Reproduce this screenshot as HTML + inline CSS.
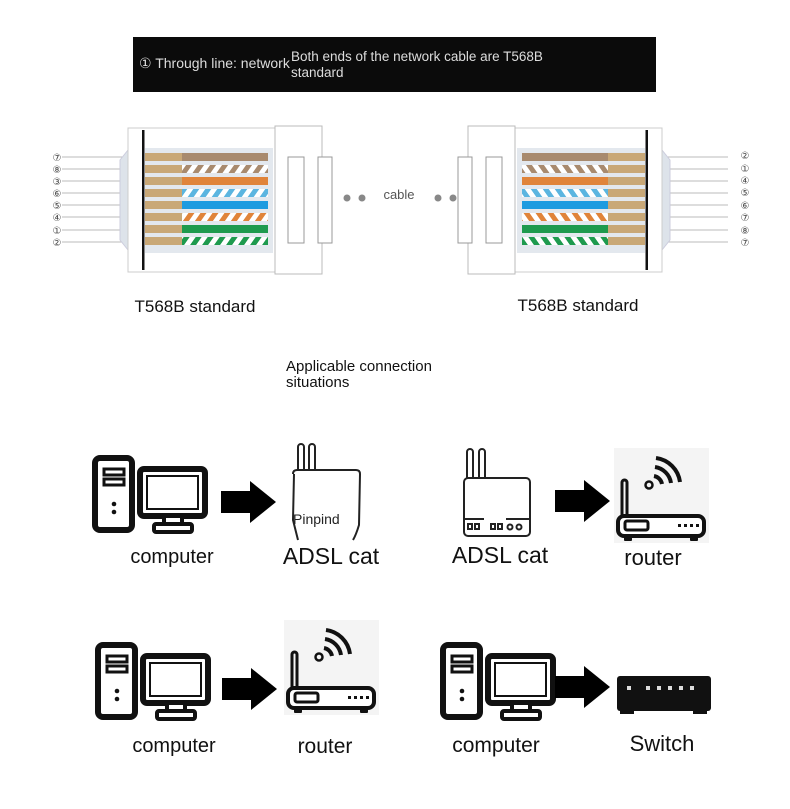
<!DOCTYPE html>
<html><head><meta charset="utf-8"><style>
body{margin:0;background:#fff;}
svg{display:block;font-family:"Liberation Sans","DejaVu Sans",sans-serif;}
</style></head><body>
<svg width="790" height="809" viewBox="0 0 790 809" xmlns="http://www.w3.org/2000/svg">
<defs>
<pattern id="stBr" width="12" height="10" patternUnits="userSpaceOnUse" patternTransform="skewX(-35)"><rect width="12" height="10" fill="#fff"/><rect width="6" height="10" fill="#a88a6e"/></pattern>
<pattern id="stOr" width="12" height="10" patternUnits="userSpaceOnUse" patternTransform="skewX(-35)"><rect width="12" height="10" fill="#fff"/><rect width="6" height="10" fill="#e0843a"/></pattern>
<pattern id="stBl" width="12" height="10" patternUnits="userSpaceOnUse" patternTransform="skewX(-35)"><rect width="12" height="10" fill="#fff"/><rect width="6" height="10" fill="#5bb5e0"/></pattern>
<pattern id="stGr" width="12" height="10" patternUnits="userSpaceOnUse" patternTransform="skewX(-35)"><rect width="12" height="10" fill="#fff"/><rect width="6" height="10" fill="#1e9a4e"/></pattern>
<g id="plug">
  <rect x="0" y="0" width="147" height="144" fill="#fff" stroke="#ccc"/>
  <rect x="17" y="20" width="128" height="105" fill="#e3e8ee"/>
  <rect x="14" y="2" width="2.5" height="140" fill="#111"/>
  <g>
    <rect x="17" y="25" width="37" height="8" fill="#c9a877"/><rect x="54" y="25" width="86" height="8" fill="#a88a6e"/>
    <rect x="17" y="37" width="37" height="8" fill="#c9a877"/><rect x="54" y="37" width="86" height="8" fill="url(#stBr)"/>
    <rect x="17" y="49" width="37" height="8" fill="#c9a877"/><rect x="54" y="49" width="86" height="8" fill="#e0843a"/>
    <rect x="17" y="61" width="37" height="8" fill="#c9a877"/><rect x="54" y="61" width="86" height="8" fill="url(#stBl)"/>
    <rect x="17" y="73" width="37" height="8" fill="#c9a877"/><rect x="54" y="73" width="86" height="8" fill="#1d9be0"/>
    <rect x="17" y="85" width="37" height="8" fill="#c9a877"/><rect x="54" y="85" width="86" height="8" fill="url(#stOr)"/>
    <rect x="17" y="97" width="37" height="8" fill="#c9a877"/><rect x="54" y="97" width="86" height="8" fill="#1e9a4e"/>
    <rect x="17" y="109" width="37" height="8" fill="#c9a877"/><rect x="54" y="109" width="86" height="8" fill="url(#stGr)"/>
  </g>
  <rect x="147" y="-2" width="47" height="148" fill="#fff" stroke="#bbb"/>
  <rect x="160" y="29" width="16" height="86" fill="#fff" stroke="#999"/>
  <rect x="190" y="29" width="14" height="86" fill="#fff" stroke="#999"/>
</g>
<g id="comp">
  <rect x="3" y="3" width="37" height="72" rx="5" fill="#fff" stroke="#111" stroke-width="6"/>
  <rect x="12" y="14" width="20" height="6" fill="#fff" stroke="#111" stroke-width="3"/>
  <rect x="12" y="24" width="20" height="6" fill="#fff" stroke="#111" stroke-width="3"/>
  <circle cx="22" cy="49" r="2.3" fill="#111"/><circle cx="22" cy="57" r="2.3" fill="#111"/>
  <rect x="48" y="14" width="65" height="47" rx="4" fill="#fff" stroke="#111" stroke-width="6"/>
  <rect x="55" y="21" width="51" height="33" fill="#fff" stroke="#111" stroke-width="2"/>
  <rect x="72" y="61" width="18" height="9" fill="#fff" stroke="#111" stroke-width="4"/>
  <rect x="62" y="69" width="38" height="8" rx="2" fill="#fff" stroke="#111" stroke-width="4"/>
</g>
<g id="arr"><rect x="0" y="10" width="30" height="22" fill="#000"/><polygon points="29,0 55,21 29,42" fill="#000"/></g>
<g id="router">
  <rect x="0" y="0" width="95" height="95" fill="#f4f4f4"/>
  <rect x="8" y="32" width="5" height="45" rx="2.5" fill="none" stroke="#111" stroke-width="3"/>
  <rect x="4" y="68" width="86" height="20" rx="6" fill="#fff" stroke="#111" stroke-width="4"/>
  <rect x="11" y="73" width="23" height="9" rx="2" fill="none" stroke="#111" stroke-width="3"/>
  <g fill="#111"><rect x="64" y="76" width="3" height="3"/><rect x="70" y="76" width="3" height="3"/><rect x="76" y="76" width="3" height="3"/><rect x="82" y="76" width="3" height="3"/>
  <rect x="10" y="88" width="8" height="5" rx="1"/><rect x="76" y="88" width="8" height="5" rx="1"/></g>
  <circle cx="35" cy="37" r="3.5" fill="none" stroke="#111" stroke-width="2.5"/>
  <g fill="none" stroke="#111" stroke-width="4"><path d="M40 28 a10 10 0 0 1 8 8"/><path d="M41 19 a19 19 0 0 1 16 16"/><path d="M42 10 a28 28 0 0 1 24 24"/></g>
</g>
</defs>

<rect x="133" y="37" width="523" height="55" fill="#0b0b0b"/>
<text x="139" y="68" fill="#ddd" font-size="14">① Through line: network</text>
<text x="291" y="61" fill="#ddd" font-size="13.5">Both ends of the network cable are T568B</text>
<text x="291" y="77" fill="#ddd" font-size="13.5">standard</text>

<g stroke="#bbb" stroke-width="1">
<line x1="62" y1="157" x2="145" y2="157"/><line x1="62" y1="169" x2="145" y2="169"/><line x1="62" y1="181" x2="145" y2="181"/><line x1="62" y1="193" x2="145" y2="193"/><line x1="62" y1="205" x2="145" y2="205"/><line x1="62" y1="217" x2="145" y2="217"/><line x1="62" y1="230" x2="145" y2="230"/><line x1="62" y1="242" x2="145" y2="242"/>
<line x1="728" y1="157" x2="645" y2="157"/><line x1="728" y1="169" x2="645" y2="169"/><line x1="728" y1="181" x2="645" y2="181"/><line x1="728" y1="193" x2="645" y2="193"/><line x1="728" y1="205" x2="645" y2="205"/><line x1="728" y1="217" x2="645" y2="217"/><line x1="728" y1="230" x2="645" y2="230"/><line x1="728" y1="242" x2="645" y2="242"/>
</g>
<path d="M128 150 L120 160 L120 240 L128 250" fill="#dde3ea" stroke="#ccd"/>
<path d="M662 150 L670 160 L670 240 L662 250" fill="#dde3ea" stroke="#ccd"/>
<use href="#plug" transform="translate(128,128)"/>
<use href="#plug" transform="translate(662,128) scale(-1,1)"/>
<g font-size="10" fill="#444" text-anchor="middle">
<text x="57" y="161">⑦</text><text x="57" y="173">⑧</text><text x="57" y="185">③</text><text x="57" y="197">⑥</text><text x="57" y="209">⑤</text><text x="57" y="221">④</text><text x="57" y="234">①</text><text x="57" y="246">②</text>
<text x="745" y="159">②</text><text x="745" y="172">①</text><text x="745" y="184">④</text><text x="745" y="196">⑤</text><text x="745" y="209">⑥</text><text x="745" y="221">⑦</text><text x="745" y="234">⑧</text><text x="745" y="246">⑦</text>
</g>
<g fill="#888"><circle cx="347" cy="198" r="3.5"/><circle cx="362" cy="198" r="3.5"/><circle cx="438" cy="198" r="3.5"/><circle cx="453" cy="198" r="3.5"/></g>
<text x="399" y="199" font-size="13" fill="#555" text-anchor="middle">cable</text>
<text x="195" y="312" font-size="17" fill="#111" text-anchor="middle">T568B standard</text>
<text x="578" y="311" font-size="17" fill="#111" text-anchor="middle">T568B standard</text>
<text x="286" y="371" font-size="15" fill="#111">Applicable connection</text>
<text x="286" y="387" font-size="15" fill="#111">situations</text>

<use href="#comp" transform="translate(92,455)"/>
<text x="172" y="563" font-size="20" fill="#111" text-anchor="middle">computer</text>
<use href="#arr" transform="translate(221,481)"/>
<g fill="none" stroke="#222" stroke-width="2">
<path d="M298 470 L298 447 a3 3 0 0 1 6 0 L304 470 M309 470 L309 447 a3 3 0 0 1 6 0 L315 470"/>
<path d="M293 474 Q293 470 297 470 L356 470 Q360 470 360 474 L359 525 Q356 535 353 540 M294 474 L293 520 Q296 532 298 540"/>
</g>
<text x="293" y="524" font-size="14" fill="#222">Pinpind</text>
<text x="331" y="564" font-size="23" fill="#111" text-anchor="middle">ADSL cat</text>

<g fill="none" stroke="#222" stroke-width="2">
<path d="M467 478 L467 452 a3 3 0 0 1 6 0 L473 478 M479 478 L479 452 a3 3 0 0 1 6 0 L485 478"/>
<rect x="464" y="478" width="66" height="58" rx="4"/>
<line x1="464" y1="519" x2="484" y2="519"/><line x1="506" y1="519" x2="530" y2="519"/>
<rect x="468" y="524" width="4" height="5"/><rect x="475" y="524" width="4" height="5"/><rect x="491" y="524" width="4" height="5"/><rect x="498" y="524" width="4" height="5"/>
<circle cx="510" cy="527" r="2.5"/><circle cx="519" cy="527" r="2.5"/>
</g>
<text x="500" y="563" font-size="23" fill="#111" text-anchor="middle">ADSL cat</text>
<use href="#arr" transform="translate(555,480)"/>
<use href="#router" transform="translate(614,448)"/>
<text x="653" y="565" font-size="22" fill="#111" text-anchor="middle">router</text>

<use href="#comp" transform="translate(95,642)"/>
<text x="174" y="752" font-size="20" fill="#111" text-anchor="middle">computer</text>
<use href="#arr" transform="translate(222,668)"/>
<use href="#router" transform="translate(284,620)"/>
<text x="325" y="753" font-size="21" fill="#111" text-anchor="middle">router</text>
<use href="#comp" transform="translate(440,642)"/>
<text x="496" y="752" font-size="21" fill="#111" text-anchor="middle">computer</text>
<use href="#arr" transform="translate(555,666)"/>
<rect x="617" y="676" width="94" height="35" rx="3" fill="#111"/>
<rect x="620" y="710" width="14" height="4" fill="#111"/><rect x="693" y="710" width="14" height="4" fill="#111"/>
<g fill="#ddd"><rect x="627" y="686" width="4" height="4"/><rect x="646" y="686" width="4" height="4"/><rect x="657" y="686" width="4" height="4"/><rect x="668" y="686" width="4" height="4"/><rect x="679" y="686" width="4" height="4"/><rect x="690" y="686" width="4" height="4"/></g>
<text x="662" y="751" font-size="22" fill="#111" text-anchor="middle">Switch</text>
</svg>
</body></html>
